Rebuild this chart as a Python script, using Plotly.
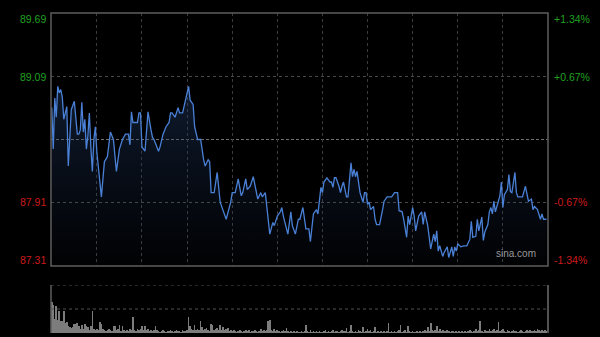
import plotly.graph_objects as go

# ---------------- data ----------------
prev_close = 88.50
price_range = [87.31, 89.69]
left_vals = [89.69, 89.09, 87.91, 87.31]
left_labels = ["89.69", "89.09", "87.91", "87.31"]
right_labels = ["+1.34%", "+0.67%", "-0.67%", "-1.34%"]
grid_minutes = [30, 60, 90, 120, 150, 180, 210, 240, 270, 300]

minutes = [0, 1, 2, 3, 4, 5, 6, 7, 8, 9, 10, 11, 13, 15, 16, 17, 18, 19, 20, 21,
           22, 23, 24, 25, 26, 27, 28, 29, 30, 33, 35, 37, 39, 41, 43, 45, 47, 49, 51, 52,
           53, 54, 57, 58, 59, 60, 62, 63, 64, 66, 67, 68, 71, 72, 74, 76, 78, 79, 80, 82,
           84, 85, 87, 91, 92, 94, 95, 97, 99, 101, 102, 104, 105, 106, 108, 110, 112, 116, 119, 120,
           122, 124, 126, 127, 129, 130, 132, 134, 136, 137, 139, 140, 142, 145, 147, 148, 150, 152, 153, 154,
           157, 159, 160, 162, 164, 165, 167, 169, 171, 172, 174, 175, 176, 177, 179, 180, 181, 183, 185, 186,
           187, 188, 189, 191, 192, 193, 194, 196, 197, 199, 200, 201, 202, 203, 205, 207, 208, 209, 210, 211,
           212, 214, 215, 216, 218, 220, 221, 223, 226, 228, 230, 231, 233, 234, 236, 237, 238, 240, 241, 242,
           244, 246, 247, 248, 250, 252, 254, 255, 256, 257, 258, 260, 261, 263, 264, 266, 267, 268, 269, 270,
           272, 274, 276, 278, 279, 280, 282, 283, 284, 286, 287, 288, 290, 291, 292, 293, 294, 295, 296, 298,
           299, 300, 301, 303, 304, 305, 306, 307, 308, 309, 310, 313, 314, 315, 317, 319, 320, 321, 323, 325,
           326, 327, 329]

prices = [88.80, 88.41, 88.89, 88.71, 89.00, 88.94, 88.97, 88.90, 88.69, 88.75, 88.81, 88.25, 88.78, 88.86, 88.69, 88.55, 88.55, 88.59, 88.85, 88.57,
          88.69, 88.41, 88.53, 88.75, 88.43, 88.20, 88.50, 88.62, 88.38, 87.96, 88.29, 88.34, 88.57, 88.50, 88.20, 88.41, 88.50, 88.55, 88.55, 88.45,
          88.76, 88.66, 88.66, 88.75, 88.75, 88.43, 88.39, 88.62, 88.76, 88.59, 88.52, 88.50, 88.39, 88.43, 88.55, 88.62, 88.66, 88.75, 88.75, 88.71,
          88.80, 88.75, 88.75, 89.00, 88.87, 88.83, 88.62, 88.50, 88.50, 88.31, 88.25, 88.31, 88.29, 88.00, 88.00, 88.19, 87.91, 87.75, 87.91, 88.00,
          88.00, 88.13, 87.97, 88.00, 88.13, 88.03, 88.06, 88.15, 88.03, 87.94, 88.00, 87.96, 88.00, 87.61, 87.72, 87.69, 87.78, 87.82, 87.86, 87.78,
          87.61, 87.82, 87.69, 87.61, 87.75, 87.75, 87.86, 87.66, 87.66, 87.54, 87.80, 87.82, 87.84, 87.80, 88.05, 88.00, 88.10, 88.14, 88.10, 88.10,
          88.05, 88.14, 88.14, 88.06, 88.00, 88.06, 88.10, 87.96, 87.96, 88.28, 88.15, 88.22, 88.15, 88.20, 88.00, 87.91, 88.00, 88.00, 87.89, 87.91,
          87.84, 87.87, 87.75, 87.70, 87.70, 87.84, 87.92, 87.96, 87.96, 88.00, 88.00, 87.83, 87.82, 87.75, 87.58, 87.78, 87.70, 87.86, 87.78, 87.64,
          87.78, 87.82, 87.70, 87.82, 87.69, 87.47, 87.61, 87.54, 87.64, 87.45, 87.50, 87.40, 87.44, 87.49, 87.39, 87.49, 87.40, 87.49, 87.45, 87.52,
          87.49, 87.50, 87.50, 87.56, 87.73, 87.58, 87.59, 87.75, 87.64, 87.77, 87.55, 87.63, 87.70, 87.82, 87.86, 87.80, 87.92, 87.82, 87.87, 87.97,
          88.10, 87.86, 87.98, 88.03, 88.17, 88.01, 88.00, 88.08, 88.19, 88.00, 87.96, 87.96, 88.01, 88.06, 87.92, 87.94, 87.84, 87.87, 87.84, 87.75,
          87.80, 87.75, 87.75]

volumes = [31, 28, 14, 27, 13, 22, 12, 12, 22, 10,
           11, 7, 6, 5, 6, 9, 9, 10, 7, 4,
           8, 4, 9, 7, 6, 3, 7, 22, 4, 3,
           4, 3, 11, 9, 4, 3, 2, 3, 4, 3,
           2, 7, 7, 3, 4, 8, 2, 7, 3, 2,
           3, 2, 4, 3, 16, 3, 2, 4, 3, 4,
           7, 3, 7, 3, 4, 2, 3, 2, 3, 7,
           3, 2, 1, 2, 3, 2, 1, 2, 2, 3,
           2, 1, 2, 3, 2, 2, 1, 3, 2, 2,
           3, 16, 7, 4, 3, 8, 3, 4, 3, 12,
           6, 3, 4, 5, 3, 2, 9, 8, 3, 4,
           5, 3, 8, 3, 6, 3, 4, 5, 2, 3,
           2, 3, 2, 1, 2, 3, 2, 1, 2, 3,
           2, 3, 1, 2, 2, 3, 2, 1, 2, 4,
           2, 3, 2, 3, 12, 13, 3, 2, 4, 2,
           3, 2, 1, 2, 3, 2, 5, 2, 1, 2,
           1, 2, 1, 2, 1, 1, 2, 1, 2, 8,
           2, 1, 3, 1, 2, 1, 2, 1, 2, 1,
           1, 2, 3, 1, 2, 1, 2, 3, 1, 2,
           2, 1, 2, 3, 2, 2, 5, 1, 2, 8,
           2, 1, 2, 1, 3, 2, 1, 6, 1, 2,
           4, 2, 3, 1, 2, 6, 1, 2, 1, 2,
           1, 2, 1, 2, 10, 1, 2, 1, 2, 1,
           2, 3, 8, 1, 2, 3, 1, 7, 2, 1,
           2, 1, 1, 2, 1, 2, 1, 2, 3, 2,
           6, 2, 10, 3, 2, 3, 7, 2, 4, 2,
           3, 2, 2, 3, 2, 1, 2, 2, 1, 2,
           1, 2, 1, 2, 1, 2, 1, 2, 3, 2,
           1, 2, 4, 2, 3, 12, 2, 1, 3, 2,
           2, 4, 2, 3, 4, 2, 3, 11, 2, 3,
           4, 2, 1, 3, 2, 1, 2, 3, 2, 2,
           1, 2, 3, 2, 1, 2, 3, 2, 3, 2,
           2, 3, 2, 4, 3, 2, 3, 2, 3, 2]
vol_minutes = list(range(len(volumes)))
vol_range = [0, 48]

# ---------------- figure ----------------
FONT = "Liberation Sans, Arial, sans-serif"
GREEN = "#21a021"
RED = "#cc1a1a"
GRID = "#3c3c3c"
FRAME = "#5e5e5e"

fig = go.Figure()

fig.add_trace(go.Scatter(
    x=minutes, y=prices, mode="lines",
    line=dict(color="#4a80d6", width=1.3),
    fill="tozeroy",
    fillgradient=dict(type="vertical", start=price_range[0], stop=89.0,
                      colorscale=[[0, "rgba(30,50,90,0.04)"], [1, "rgba(36,64,110,0.42)"]]),
    xaxis="x", yaxis="y", showlegend=False, hoverinfo="skip",
))

fig.add_trace(go.Bar(
    x=vol_minutes, y=volumes, width=0.45,
    marker=dict(color="#7c7c7c", line=dict(width=0)),
    xaxis="x2", yaxis="y2", showlegend=False, hoverinfo="skip",
))

xr = [-0.5, 330]
fig.update_layout(
    width=600, height=337,
    margin=dict(l=51, r=52, t=13, b=4),
    paper_bgcolor="#000000", plot_bgcolor="#000000",
    font=dict(family=FONT, size=10.5),
    xaxis=dict(domain=[0, 1], range=xr, showticklabels=False, zeroline=False,
               tickvals=grid_minutes, showgrid=True, gridcolor=GRID, griddash="dot",
               gridwidth=1, anchor="y"),
    yaxis=dict(domain=[0.209375, 1], range=price_range, showticklabels=False,
               zeroline=False, tickvals=[left_vals[1], left_vals[2]], showgrid=True,
               gridcolor="#4a4a4a", griddash="dot", gridwidth=1, anchor="x"),
    xaxis2=dict(domain=[0, 1], range=xr, showticklabels=False, zeroline=False,
                showgrid=False, anchor="y2"),
    yaxis2=dict(domain=[0, 0.15], range=vol_range, showticklabels=False, zeroline=False,
                showgrid=False, anchor="x2"),
    bargap=0.4,
)

shapes = [
    # previous close line
    dict(type="line", xref="x domain", yref="y", x0=0, x1=1, y0=prev_close, y1=prev_close,
         line=dict(color="#707070", width=1, dash="3px,2px"), layer="below"),
    # main frame
    dict(type="rect", xref="x domain", yref="y domain", x0=0, x1=1, y0=0, y1=1,
         line=dict(color=FRAME, width=1.5)),
    # volume panel dotted lines
    dict(type="line", xref="x2 domain", yref="y2", x0=0, x1=1, y0=vol_range[1], y1=vol_range[1],
         line=dict(color="#505050", width=1, dash="dot")),
    dict(type="line", xref="x2 domain", yref="y2", x0=0, x1=1, y0=vol_range[1] / 2, y1=vol_range[1] / 2,
         line=dict(color="#505050", width=1, dash="dot")),
    # volume panel side borders
    dict(type="line", xref="x2 domain", yref="y2 domain", x0=0, x1=0, y0=0, y1=1,
         line=dict(color=FRAME, width=1.5)),
    dict(type="line", xref="x2 domain", yref="y2 domain", x0=1, x1=1, y0=0, y1=1,
         line=dict(color="#6e6e6e", width=1.5)),
]
fig.update_layout(shapes=shapes)

ann = []
shifts = [-6, 0, 0, 6]
for v, lab, rl, s in zip(left_vals, left_labels, right_labels, shifts):
    col = GREEN if v > prev_close else RED
    ann.append(dict(xref="paper", yref="y", x=0, y=v, text=lab, showarrow=False,
                    xanchor="right", yanchor="middle", xshift=-3, yshift=s,
                    font=dict(color=col, size=10.5, family=FONT)))
    ann.append(dict(xref="paper", yref="y", x=1, y=v, text=rl, showarrow=False,
                    xanchor="left", yanchor="middle", xshift=4, yshift=s,
                    font=dict(color=col, size=10.5, family=FONT)))
ann.append(dict(xref="x domain", yref="y domain", x=0.98, y=0.018, text="sina.com",
                showarrow=False, xanchor="right", yanchor="bottom",
                font=dict(color="#9a9a9a", size=10, family=FONT)))
fig.update_layout(annotations=ann)

fig.write_html("out.html", config={"displayModeBar": False})
